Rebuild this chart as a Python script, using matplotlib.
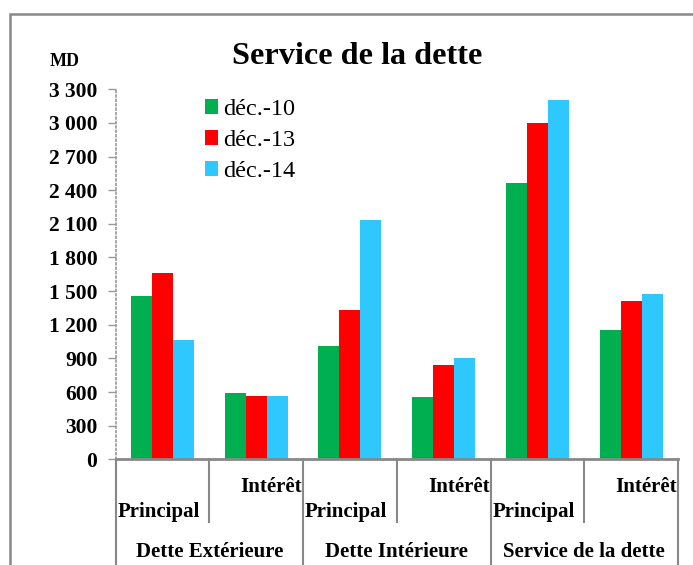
import matplotlib
matplotlib.use("Agg")
import matplotlib.pyplot as plt
import matplotlib.transforms as mtransforms
from matplotlib.patches import Rectangle, Patch
from matplotlib.font_manager import FontProperties
import numpy as np

# ---- data ----
sub_labels = ["Principal", "Intérêt", "Principal", "Intérêt", "Principal", "Intérêt"]
group_labels = ["Dette Extérieure", "Dette Intérieure", "Service de la dette"]
series_names = ["déc.-10", "déc.-13", "déc.-14"]
dec10 = [1454, 589, 1008, 553, 2462, 1153]
dec13 = [1659, 562, 1330, 841, 2997, 1412]
dec14 = [1067, 567, 2135, 904, 3205, 1475]
colors = ["#00B050", "#FF0000", "#2EC8FF"]
yticks = [0, 300, 600, 900, 1200, 1500, 1800, 2100, 2400, 2700, 3000, 3300]

plt.rcParams['font.family'] = ['Liberation Serif', 'DejaVu Serif']

W, H = 693, 565
fig = plt.figure(figsize=(W / 100, H / 100), dpi=100)
ax = fig.add_axes([115.5 / W, (H - 459.3) / H, (678 - 115.5) / W, (459.3 - 89.3) / H])

x = np.arange(len(sub_labels))
bw = 0.224
for i, (vals, name, c) in enumerate(zip([dec10, dec13, dec14], series_names, colors)):
    ax.bar(x + (i - 1) * bw, vals, width=bw, color=c, label=name, zorder=2)

ax.set_xlim(-0.5, 5.5)
ax.set_ylim(0, 3300)
ax.set_yticks(yticks)
ax.set_yticklabels([f"{v:,}".replace(",", " ") for v in yticks],
                   fontsize=15.5, fontweight='bold')
ax.tick_params(axis='y', length=6, width=1, color='#999999', pad=7)
for t in ax.yaxis.get_ticklines():
    t.set_linestyle(':')
ax.set_xticks([])

for s in ['top', 'right']:
    ax.spines[s].set_visible(False)
ax.spines['left'].set_linestyle(':')
ax.spines['left'].set_color('#999999')
ax.spines['left'].set_linewidth(1.2)
ax.spines['bottom'].set_color('#888888')
ax.spines['bottom'].set_linewidth(2)

trans = mtransforms.blended_transform_factory(ax.transData, ax.transAxes)
# group boundaries (long)
for b in [-0.5, 1.5, 3.5, 5.5]:
    ax.plot([b, b], [0, -0.32], transform=trans, color='#888888', lw=1.5, clip_on=False)
# sub boundaries (short)
for b in [0.5, 2.5, 4.5]:
    ax.plot([b, b], [0, -0.1695], transform=trans, color='#888888', lw=1.5, clip_on=False)

for i, lab in enumerate(sub_labels):
    if i % 2 == 0:
        ax.text(i - 0.5 + 0.02, -0.156, lab, transform=trans, ha='left', va='baseline',
                fontsize=15, fontweight='bold')
    else:
        ax.text(i + 0.5 - 0.01, -0.0884, lab, transform=trans, ha='right', va='baseline',
                fontsize=15, fontweight='bold')
for k, lab in enumerate(group_labels):
    ax.text(2 * k + 0.5, -0.264, lab, transform=trans, ha='center', va='baseline',
            fontsize=15, fontweight='bold')

# title and unit
fig.text(357 / W, (H - 64) / H, "Service de la dette", ha='center', va='baseline',
         fontsize=23.2, fontweight='bold')
fig.text(50 / W, (H - 66) / H, "MD", ha='left', va='baseline', fontsize=13, fontweight='bold')

# legend
handles = [Patch(facecolor=c, edgecolor='none') for c in colors]
leg = fig.legend(handles, series_names, loc='upper left',
                 bbox_to_anchor=(205 / W, (H - 99) / H), frameon=False,
                 prop=FontProperties(family='Liberation Serif', size=17.5),
                 handlelength=0.55, handleheight=0.55,
                 handletextpad=0.2, labelspacing=0.42, borderpad=0, borderaxespad=0)

# outer border
fig.patches.append(Rectangle((9.5 / W, -0.1), 1.2, (H - 13.5) / H + 0.1,
                             transform=fig.transFigure, fill=False,
                             edgecolor='#888888', lw=1.8))

fig.savefig("out.png", dpi=100)
